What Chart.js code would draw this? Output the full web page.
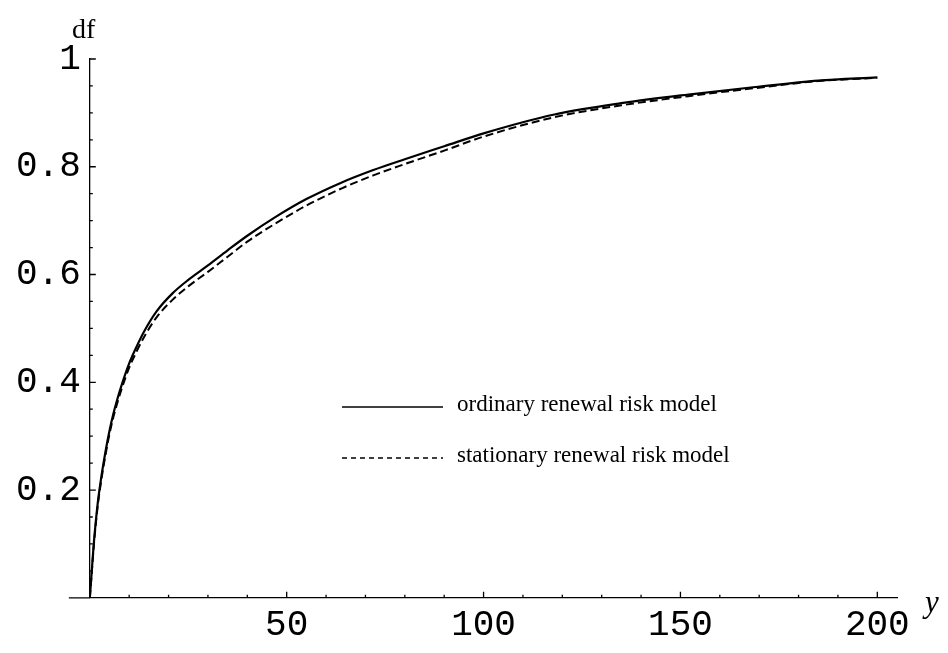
<!DOCTYPE html>
<html>
<head>
<meta charset="utf-8">
<script src="https://cdn.jsdelivr.net/npm/chart.js@4"></script>
<style>
  html, body { margin: 0; padding: 0; background: #fff; }
  canvas { display: block; }
</style>
</head>
<body>
<canvas id="myChart" width="948" height="653"></canvas>
<script>
// values
const xs = [0, 0.5, 1, 2, 3, 4, 5, 6, 7, 8, 10, 12, 14, 17, 21, 25, 30, 35, 40, 47, 55, 64, 72, 80, 90, 100, 118, 135, 152, 169, 185, 200];
const ordinary = [0, 0.05, 0.1, 0.175, 0.228, 0.272, 0.31, 0.342, 0.369, 0.393, 0.435, 0.468, 0.497, 0.532, 0.565, 0.59, 0.617, 0.645, 0.672, 0.706, 0.74, 0.771, 0.794, 0.814, 0.838, 0.862, 0.897, 0.918, 0.934, 0.948, 0.96, 0.966];
const stationary = [0, 0.047, 0.095, 0.17, 0.222, 0.266, 0.304, 0.336, 0.362, 0.386, 0.427, 0.459, 0.487, 0.521, 0.553, 0.578, 0.605, 0.633, 0.661, 0.694, 0.728, 0.76, 0.784, 0.805, 0.83, 0.856, 0.892, 0.914, 0.931, 0.946, 0.959, 0.965];
const xTicks = [50, 100, 150, 200];
const yTicks = [0.2, 0.4, 0.6, 0.8, 1];
const seriesNames = ["ordinary renewal risk model", "stationary renewal risk model"];

const monoFont = { family: "'Liberation Mono', 'Courier New', monospace", size: 36 };

// inward tick marks, axis extension, axis names and the legend box
const decorations = {
  id: "decorations",
  afterDraw(chart) {
    const ctx = chart.ctx;
    const x = chart.scales.x;
    const y = chart.scales.y;
    const x0 = x.getPixelForValue(0);
    const y0 = y.getPixelForValue(0);
    ctx.save();
    ctx.strokeStyle = "#000";
    ctx.lineWidth = 1.3;
    ctx.beginPath();
    // x axis runs a little left of the y axis
    ctx.moveTo(x0 - 21, y0);
    ctx.lineTo(x0, y0);
    // y ticks, minor every 0.05
    for (let v = 0.05; v <= 1.0001; v += 0.05) {
      const major = yTicks.some(t => Math.abs(t - v) < 1e-6);
      const py = y.getPixelForValue(v);
      ctx.moveTo(x0, py);
      ctx.lineTo(x0 + (major ? 6 : 3), py);
    }
    // x ticks, minor every 10
    for (let v = 10; v <= 200; v += 10) {
      const major = v % 50 === 0;
      const px = x.getPixelForValue(v);
      ctx.moveTo(px, y0);
      ctx.lineTo(px, y0 - (major ? 6 : 3));
    }
    ctx.stroke();

    ctx.fillStyle = "#000";
    ctx.textBaseline = "alphabetic";
    ctx.font = "28px 'Liberation Serif', serif";
    ctx.fillText("df", 72, 38);
    ctx.font = "italic 31px 'Liberation Serif', serif";
    ctx.fillText("y", 925, 612);

    // legend
    ctx.font = "23px 'Liberation Serif', serif";
    ctx.textBaseline = "middle";
    const rows = [{ y: 407, dash: [] }, { y: 458, dash: [5, 4] }];
    rows.forEach((r, i) => {
      ctx.beginPath();
      ctx.setLineDash(r.dash);
      ctx.lineWidth = 1.5;
      ctx.moveTo(342, r.y);
      ctx.lineTo(443, r.y);
      ctx.stroke();
      ctx.setLineDash([]);
      ctx.fillText(seriesNames[i], 457, r.y - 2);
    });
    ctx.restore();
  }
};

const data = {
  datasets: [
    {
      label: seriesNames[0],
      data: xs.map((v, i) => ({ x: v, y: ordinary[i] })),
      borderColor: "#000",
      borderWidth: 2.2,
      pointRadius: 0,
      cubicInterpolationMode: "monotone",
    },
    {
      label: seriesNames[1],
      data: xs.map((v, i) => ({ x: v, y: stationary[i] })),
      borderColor: "#000",
      borderWidth: 2,
      borderDash: [8, 4],
      pointRadius: 0,
      cubicInterpolationMode: "monotone",
    },
  ],
};

const config = {
  type: "line",
  data: data,
  options: {
    responsive: false,
    animation: false,
    layout: { padding: { left: 7, top: 59, right: 51, bottom: 0 } },
    plugins: {
      legend: { display: false },
      tooltip: { enabled: false },
    },
    scales: {
      x: {
        type: "linear",
        min: 0,
        max: 205,
        grid: { display: false, drawTicks: false },
        border: { display: true, color: "#000", width: 1.3 },
        afterBuildTicks: (s) => { s.ticks = xTicks.map(v => ({ value: v })); },
        ticks: {
          color: "#000",
          font: monoFont,
          padding: 6,
          maxRotation: 0,
        },
      },
      y: {
        min: 0,
        max: 1,
        grid: { display: false, drawTicks: false },
        border: { display: true, color: "#000", width: 1.3 },
        afterBuildTicks: (s) => { s.ticks = yTicks.map(v => ({ value: v })); },
        ticks: {
          color: "#000",
          font: monoFont,
          padding: 9,
          callback: (v) => (v === 1 ? "1" : v.toFixed(1)),
        },
      },
    },
  },
  plugins: [decorations],
};

const myChart = new Chart(document.getElementById("myChart"), config);
</script>
</body>
</html>
